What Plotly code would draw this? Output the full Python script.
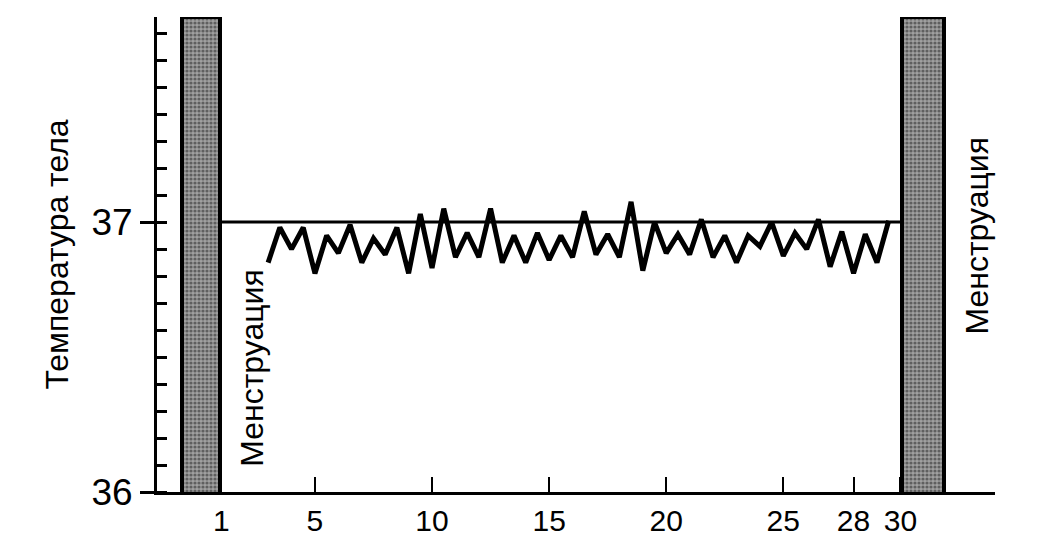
import plotly.graph_objects as go

# ---- data ----
days = [3, 3.5, 4, 4.5, 5, 5.5, 6, 6.5, 7, 7.5, 8, 8.5, 9, 9.5, 10, 10.5,
        11, 11.5, 12, 12.5, 13, 13.5, 14, 14.5, 15, 15.5, 16, 16.5, 17, 17.5,
        18, 18.5, 19, 19.5, 20, 20.5, 21, 21.5, 22, 22.5, 23, 23.5, 24, 24.5,
        25, 25.5, 26, 26.5, 27, 27.5, 28, 28.5, 29, 29.5]
temps = [36.85, 36.98, 36.90, 36.98, 36.81, 36.95, 36.885, 36.99, 36.85, 36.94,
         36.88, 36.98, 36.81, 37.03, 36.83, 37.05, 36.87, 36.96, 36.87, 37.05,
         36.85, 36.95, 36.85, 36.96, 36.86, 36.95, 36.87, 37.04, 36.88, 36.955,
         36.87, 37.075, 36.82, 37.00, 36.885, 36.955, 36.88, 37.01, 36.87, 36.95,
         36.85, 36.95, 36.91, 37.00, 36.875, 36.96, 36.90, 37.01, 36.835, 36.965,
         36.81, 36.955, 36.85, 37.005]

menstruation_days = [1, 30]
menstruation_top = [37.76, 37.76]

reference_days = [1, 30]
reference_temp = [37.0, 37.0]

x_tick_vals = [1, 5, 10, 15, 20, 25, 28, 30]
x_tick_text = ["1", "5", "10", "15", "20", "25", "28", "30"]
y_tick_vals = [36, 37]
y_tick_text = ["36", "37"]

menstruation_label = "Менструация"
y_title = "Температура тела"

FONT = "Liberation Sans, Arial, sans-serif"

fig = go.Figure()

fig.add_trace(go.Scatter(
    x=reference_days, y=reference_temp, mode="lines",
    line=dict(color="black", width=3), hoverinfo="skip", showlegend=False))

fig.add_trace(go.Scatter(
    x=days, y=temps, mode="lines",
    line=dict(color="black", width=5), showlegend=False))

fig.add_trace(go.Bar(
    x=menstruation_days, y=menstruation_top,
    width=[1.63, 1.79], offset=[-1.67, 0.07],
    marker=dict(
        color="#8a8a8a",
        line=dict(color="black", width=4),
        pattern=dict(shape=".", fgcolor="#1e1e1e", bgcolor="#a0a0a0",
                     size=4, solidity=0.5)),
    showlegend=False))

fig.add_annotation(x=2.31, y=36.46, text=menstruation_label, textangle=-90,
                   showarrow=False, font=dict(size=32, color="black", family=FONT))
fig.add_annotation(x=33.27, y=36.95, text=menstruation_label, textangle=-90,
                   showarrow=False, font=dict(size=32, color="black", family=FONT))

fig.update_layout(
    width=1041, height=544,
    margin=dict(l=157, r=46, t=17, b=52, pad=0, autoexpand=False),
    paper_bgcolor="white", plot_bgcolor="white",
    font=dict(family=FONT, color="black"),
    bargap=0,
    xaxis=dict(
        range=[-1.745, 34.04], tickmode="array",
        tickvals=x_tick_vals, ticktext=x_tick_text,
        ticks="inside", ticklen=15, tickwidth=2, tickcolor="black",
        showline=True, linecolor="black", linewidth=3,
        showgrid=False, zeroline=False, layer="below traces",
        automargin=False,
        tickfont=dict(size=30, family=FONT, color="black"),
        ticklabelstandoff=0),
    yaxis=dict(
        range=[36, 37.76], tickmode="array",
        tickvals=y_tick_vals, ticktext=y_tick_text,
        ticks="outside", ticklen=14, tickwidth=3, tickcolor="black",
        showline=True, linecolor="black", linewidth=3,
        showgrid=False, zeroline=False, automargin=False,
        tickfont=dict(size=37, family=FONT, color="black"),
        minor=dict(tickmode="linear", tick0=36, dtick=0.1, ticks="inside",
                   ticklen=10, tickwidth=2.5, tickcolor="black", showgrid=False),
        title=dict(text=y_title, standoff=14,
                   font=dict(size=32, family=FONT, color="black"))),
)

fig.write_html(
    "out.html",
    config={"displayModeBar": False},
    post_script=(
        "var h=document.documentElement, b=document.body;"
        "h.style.margin='0'; h.style.padding='0'; h.style.overflow='hidden';"
        "b.style.margin='0'; b.style.padding='0'; b.style.overflow='hidden';"
    ),
)
